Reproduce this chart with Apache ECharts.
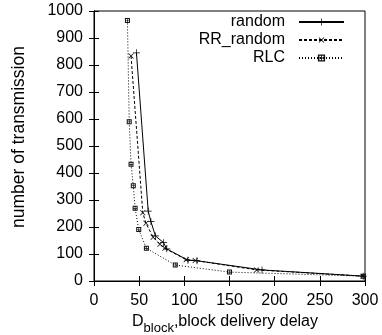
<!DOCTYPE html>
<html>
<head>
<meta charset="utf-8">
<script src="https://cdn.jsdelivr.net/npm/echarts@6/dist/echarts.min.js"></script>
<style>
html,body{margin:0;padding:0;background:#fff;}
#c{width:382px;height:335px;}
</style>
</head>
<body>
<div id="c"></div>
<script>
var xTicks = [0, 50, 100, 150, 200, 250, 300];
var yTicks = [0, 100, 200, 300, 400, 500, 600, 700, 800, 900, 1000];
var seriesNames = ['random', 'RR_random', 'RLC'];

var randomX = [47, 60, 63, 68, 77, 80.5, 104, 114, 186, 298];
var randomY = [845, 259, 220, 167, 142, 119, 77, 75, 41, 18];

var rrX = [41, 54, 57.5, 65.5, 73, 78.5, 102, 112, 180, 298];
var rrY = [833, 253, 214, 162, 136, 121, 79, 76, 41, 18];

var rlcX = [37, 39, 41, 43.5, 45.5, 49.5, 58, 90, 150, 298];
var rlcY = [965, 590, 432, 353, 269, 191, 121, 59, 33, 18];

function pairs(xs, ys) { return xs.map(function (x, i) { return [x, ys[i]]; }); }

var FONT = 'Liberation Sans, Arial, sans-serif';
var plusPath = 'path://M0,4.5h10v1h-10z M4.5,0h1v10h-1z';
var starPath = 'path://M0,0h10v10h-10z M2,2v6h6v-6z M0,4.4h10v1.2h-10z M4.4,0h1.2v10h-1.2z';

var chart = echarts.init(document.getElementById('c'), null, {renderer: 'canvas'});

function axisCommon() {
  return {
    axisLine: {show: true, lineStyle: {color: '#000', width: 1}},
    axisTick: {show: true, inside: true, length: 5, lineStyle: {color: '#000', width: 1}},
    splitLine: {show: false}
  };
}

var option = {
  backgroundColor: '#fff',
  animation: false,
  grid: {left: 94, right: 17, top: 11, bottom: 54, containLabel: false, outerBoundsMode: 'none',
         show: true, borderColor: '#000', borderWidth: 1, backgroundColor: 'transparent'},
  legend: {
    data: seriesNames,
    orient: 'vertical',
    align: 'right',
    right: 37,
    top: 14,
    padding: 0,
    itemGap: 2,
    itemWidth: 45,
    itemHeight: 9,
    textStyle: {fontFamily: FONT, fontSize: 16, color: '#000', padding: [0, 9, 0, 0]}
  },
  xAxis: [
    Object.assign(axisCommon(), {
      type: 'value', position: 'bottom', min: xTicks[0], max: xTicks[xTicks.length - 1], interval: 50,
      axisLabel: {fontFamily: FONT, fontSize: 16, color: '#000', margin: 12,
                  formatter: function (v) { return String(v); }},
      name: '{m|D}{s|block}{m|,block delivery delay}',
      nameLocation: 'middle', nameGap: 26,
      nameTextStyle: {
        fontFamily: FONT, color: '#000', padding: [0, 9, 0, 0],
        rich: {
          m: {fontFamily: FONT, fontSize: 16, color: '#000'},
          s: {fontFamily: FONT, fontSize: 13, color: '#000', padding: [13, 0, 0, 0]}
        }
      }
    }),
    Object.assign(axisCommon(), {
      type: 'value', position: 'top', min: xTicks[0], max: xTicks[xTicks.length - 1], interval: 50,
      axisLabel: {show: false}
    })
  ],
  yAxis: [
    Object.assign(axisCommon(), {
      type: 'value', position: 'left', min: yTicks[0], max: yTicks[yTicks.length - 1], interval: 100,
      axisLabel: {fontFamily: FONT, fontSize: 16, color: '#000', margin: 11,
                  formatter: function (v) { return String(v); }},
      name: 'number of transmission', nameLocation: 'middle', nameGap: 66,
      nameTextStyle: {fontFamily: FONT, fontSize: 17.5, color: '#000', padding: [0, 0, 0, 18]}
    }),
    Object.assign(axisCommon(), {
      type: 'value', position: 'right', min: yTicks[0], max: yTicks[yTicks.length - 1], interval: 100,
      axisLabel: {show: false}
    })
  ],
  series: [
    {
      name: seriesNames[0], type: 'line', data: pairs(randomX, randomY),
      symbol: plusPath, symbolSize: 7,
      lineStyle: {color: '#000', width: 1, type: 'solid'},
      itemStyle: {color: '#000'}
    },
    {
      name: seriesNames[1], type: 'line', data: pairs(rrX, rrY),
      symbol: plusPath, symbolSize: 7, symbolRotate: 45,
      lineStyle: {color: '#000', width: 1, type: [3, 2]},
      itemStyle: {color: '#000'}
    },
    {
      name: seriesNames[2], type: 'line', data: pairs(rlcX, rlcY),
      symbol: starPath, symbolSize: 5,
      lineStyle: {color: '#000', width: 1, type: [1, 2]},
      itemStyle: {color: '#111'}
    }
  ]
};
chart.setOption(option);
</script>
</body>
</html>
